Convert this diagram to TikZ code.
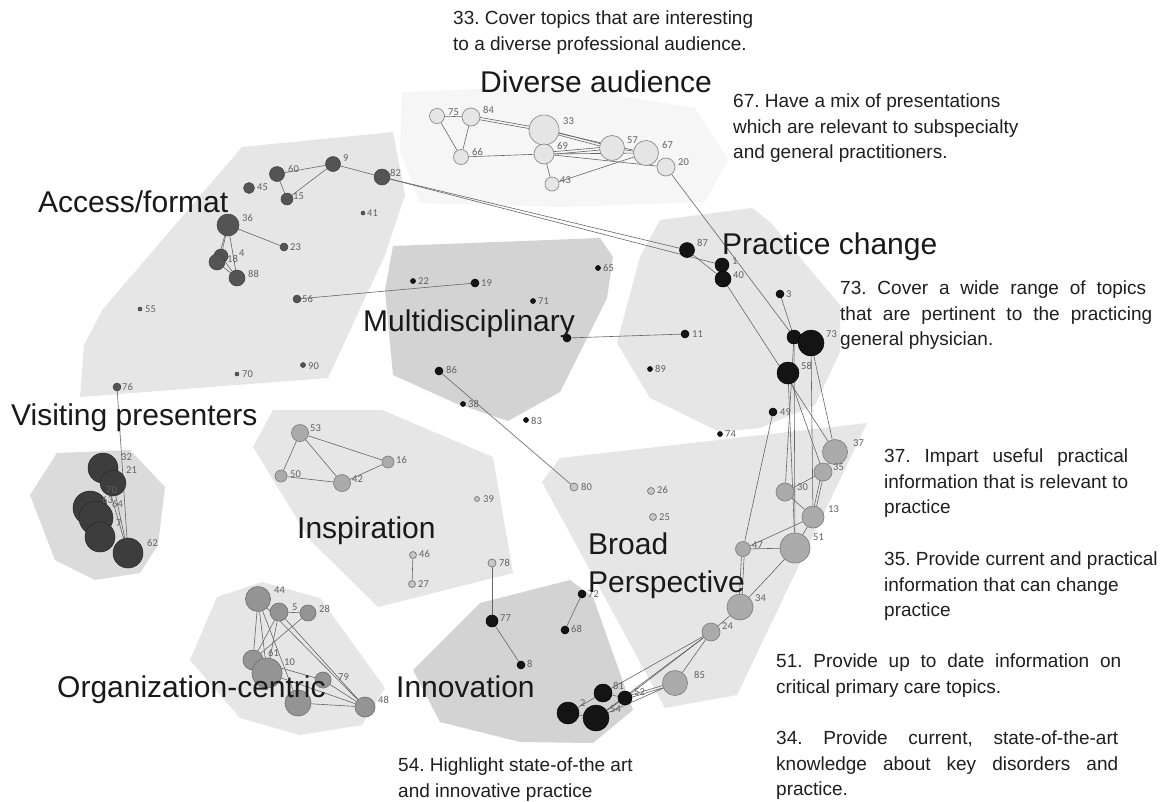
\documentclass[tikz,border=0pt]{standalone}
\usepackage{fontspec}
\setmainfont{Liberation Sans}
\newfontfamily\numfont{Carlito}
\definecolor{hullL}{HTML}{E6E6E6}
\definecolor{hullD}{HTML}{D3D3D3}
\definecolor{hullV}{HTML}{F6F6F6}
\pgfdeclarelayer{hull}
\pgfdeclarelayer{edges}
\pgfsetlayers{hull,edges,main}
\tikzset{
  nd/.style={circle,inner sep=0pt,minimum size=#1},
  daN/.style={nd=#1,fill=black!10,draw=black!45,line width=0.7pt},
  acN/.style={nd=#1,fill=black!67,draw=black!75,line width=0.5pt},
  viN/.style={nd=#1,fill=black!76,draw=black!85,line width=0.5pt},
  bkN/.style={nd=#1,fill=black!92,draw=black,line width=0.5pt},
  brN/.style={nd=#1,fill=black!33,draw=black!50,line width=0.7pt},
  smN/.style={nd=#1,fill=black!22,draw=black!50,line width=0.8pt},
  orN/.style={nd=#1,fill=black!42,draw=black!55,line width=0.7pt},
  ed/.style={draw=black!60,line width=0.6pt},
  numlab/.style={font=\numfont\fontsize{10.5}{12}\selectfont,text=black!62,inner sep=0pt,anchor=west},
  biglab/.style={font=\fontsize{30}{36}\selectfont,text=black!90,inner sep=0pt,anchor=base west},
  note/.style={font=\frenchspacing\fontsize{19}{25.5}\selectfont,text=black!88,inner sep=0pt,anchor=north west,align=left}
}
\begin{document}
\begin{tikzpicture}[x=1pt,y=-1pt]
\useasboundingbox (0,0) rectangle (1162,801);
% ---------- hulls
\begin{pgfonlayer}{hull}
\fill[white] (0,0) rectangle (1162,801);
\fill[hullV] (402,92) -- (560,86) -- (695,108) -- (728,160) -- (705,202) -- (560,207) -- (420,203) -- (400,150) -- cycle;
\fill[hullL] (242,147) -- (393,132) -- (405,195) -- (385,255) -- (328,378) -- (80,397) -- (84,345) -- (103,309) -- cycle;
\fill[hullL] (660,220) -- (752,208) -- (770,222) -- (840,305) -- (840,352) -- (815,405) -- (760,428) -- (720,432) -- (650,398) -- (617,343) -- (640,257) -- cycle;
\fill[hullL] (560,458) -- (867,423) -- (737,695) -- (665,708) -- (542,482) -- cycle;
\fill[hullL] (273,410) -- (382,410) -- (493,457) -- (513,573) -- (378,607) -- (310,540) -- (253,447) -- cycle;
\fill[hullL] (217,597) -- (262,582) -- (320,598) -- (385,688) -- (362,725) -- (300,735) -- (240,718) -- (190,660) -- cycle;
\fill[hullL!95!black] (57,453) -- (130,450) -- (165,487) -- (158,545) -- (140,573) -- (95,580) -- (55,560) -- (30,495) -- cycle;
\fill[hullD] (393,246) -- (600,238) -- (613,257) -- (607,298) -- (560,392) -- (508,421) -- (455,403) -- (393,375) -- (385,290) -- cycle;
\fill[hullD] (480,603) -- (570,580) -- (593,597) -- (633,710) -- (593,743) -- (520,742) -- (440,722) -- (413,670) -- cycle;
\end{pgfonlayer}
% ---------- Diverse audience
\node[daN=15pt] (n75) at (437,116) {};
\node[daN=18pt] (n84) at (471,117) {};
\node[daN=30pt] (n33) at (544,130) {};
\node[daN=15pt] (n66) at (461,157) {};
\node[daN=20pt] (n69) at (544,154) {};
\node[daN=25pt] (n57) at (612,148) {};
\node[daN=25pt] (n67) at (646,153) {};
\node[daN=18pt] (n20) at (666,167) {};
\node[daN=14pt] (n43) at (552,184) {};
\node[numlab] (l75) at (448,112) {75};
\node[numlab] (l84) at (483,110) {84};
\node[numlab] (l33) at (563,121) {33};
\node[numlab] (l66) at (472,152) {66};
\node[numlab] (l69) at (557,146) {69};
\node[numlab] (l57) at (627,140) {57};
\node[numlab] (l67) at (662,145) {67};
\node[numlab] (l20) at (678,162) {20};
\node[numlab] (l43) at (560,180) {43};
% ---------- Access/format
\node[acN=15pt] (n9) at (333,164) {};
\node[acN=15pt] (n60) at (277,174) {};
\node[acN=11pt] (n45) at (249,188) {};
\node[acN=12pt] (n15) at (287,199) {};
\node[acN=16pt] (n82) at (382,177) {};
\node[acN=4pt] (n41) at (363,213) {};
\node[acN=22pt] (n36) at (228,225) {};
\node[acN=8pt] (n23) at (284,247) {};
\node[acN=14pt] (n4) at (221,256) {};
\node[acN=16pt] (n18) at (217,262) {};
\node[acN=16pt] (n88) at (237,278) {};
\node[acN=8pt] (n56) at (297,299) {};
\node[acN=4pt] (n55) at (140,309) {};
\node[acN=4pt] (n70) at (237,374) {};
\node[acN=5pt] (n90) at (303,365) {};
\node[acN=8pt] (n76) at (117,387) {};
\node[numlab] (l9) at (343,158) {9};
\node[numlab] (l60) at (288,169) {60};
\node[numlab] (l45) at (257,187) {45};
\node[numlab] (l15) at (293,196) {15};
\node[numlab] (l82) at (390,173) {82};
\node[numlab] (l41) at (367,213) {41};
\node[numlab] (l36) at (242,218) {36};
\node[numlab] (l23) at (290,247) {23};
\node[numlab] (l4) at (239,253) {4};
\node[numlab] (l18) at (227,259) {18};
\node[numlab] (l88) at (248,274) {88};
\node[numlab] (l56) at (302,299) {56};
\node[numlab] (l55) at (145,309) {55};
\node[numlab] (l70) at (242,374) {70};
\node[numlab] (l90) at (308,366) {90};
\node[numlab] (l76) at (122,387) {76};
% ---------- Visiting presenters
\node[viN=30pt] (v32) at (103,468) {};
\node[viN=26pt] (v21) at (113,483) {};
\node[viN=34pt] (va) at (90,508) {};
\node[viN=34pt] (vb) at (96,518) {};
\node[viN=30pt] (vc) at (100,537) {};
\node[viN=30pt] (v62) at (128,553) {};
% ---------- Multidisciplinary
\node[bkN=5pt] (m22) at (413,281) {};
\node[bkN=8pt] (m19) at (475,283) {};
\node[bkN=5pt] (m71) at (533,301) {};
\node[bkN=5pt] (m65) at (598,268) {};
\node[bkN=8pt] (m11) at (685,334) {};
\node[bkN=8pt] (m4) at (567,338) {};
\node[bkN=8pt] (m86) at (439,371) {};
\node[bkN=5pt] (m38) at (463,404) {};
\node[bkN=5pt] (m83) at (526,420) {};
\node[smN=8pt] (m80) at (574,487) {};
\node[numlab] (l22) at (418,281) {22};
\node[numlab] (l19) at (481,283) {19};
\node[numlab] (l71) at (538,301) {71};
\node[numlab] (l65) at (603,268) {65};
\node[numlab] (l11) at (692,334) {11};
\node[numlab] (l86) at (446,370) {86};
\node[numlab] (l38) at (468,404) {38};
\node[numlab] (l83) at (531,421) {83};
\node[numlab] (l80) at (581,487) {80};
% ---------- Practice change
\node[bkN=15pt] (p87) at (687,250) {};
\node[bkN=14pt] (p1) at (722,265) {};
\node[bkN=16pt] (p40) at (723,279) {};
\node[bkN=8pt] (p3) at (780,294) {};
\node[bkN=14pt] (ph) at (794,337) {};
\node[bkN=26pt] (p73) at (811,343) {};
\node[bkN=22pt] (p58) at (788,373) {};
\node[bkN=8pt] (p49) at (773,412) {};
\node[bkN=5pt] (p74) at (720,434) {};
\node[bkN=5pt] (p89) at (650,369) {};
\node[numlab] (l87) at (697,243) {87};
\node[numlab] (l1) at (732,261) {1};
\node[numlab] (l40) at (733,275) {40};
\node[numlab] (l3) at (786,294) {3};
\node[numlab] (l73) at (826,334) {73};
\node[numlab] (l58) at (801,366) {58};
\node[numlab] (l49) at (780,412) {49};
\node[numlab] (l74) at (725,434) {74};
\node[numlab] (l89) at (655,369) {89};
% ---------- Broad perspective
\node[brN=25pt] (b37) at (835,452) {};
\node[brN=18pt] (b35) at (823,472) {};
\node[brN=18pt] (b30) at (785,492) {};
\node[brN=22pt] (b13) at (813,517) {};
\node[brN=30pt] (b51) at (795,548) {};
\node[brN=15pt] (b47) at (743,549) {};
\node[brN=26pt] (b34) at (740,607) {};
\node[brN=18pt] (b24) at (711,632) {};
\node[brN=25pt] (b85) at (675,683) {};
\node[smN=7pt] (b26) at (651,491) {};
\node[smN=7pt] (b25) at (653,517) {};
\node[numlab] (l37) at (853,443) {37};
\node[numlab] (l35) at (833,467) {35};
\node[numlab] (l30) at (797,487) {30};
\node[numlab] (l13) at (828,509) {13};
\node[numlab] (l51) at (813,537) {51};
\node[numlab] (l47) at (752,545) {47};
\node[numlab] (l34) at (755,598) {34};
\node[numlab] (l24) at (722,626) {24};
\node[numlab] (l85) at (694,675) {85};
\node[numlab] (l26) at (657,490) {26};
\node[numlab] (l25) at (659,517) {25};
% ---------- Inspiration
\node[brN=17pt] (i53) at (300,433) {};
\node[brN=12pt] (i50) at (281,476) {};
\node[brN=17pt] (i42) at (342,483) {};
\node[brN=12pt] (i16) at (388,462) {};
\node[smN=5pt] (i39) at (477,499) {};
\node[smN=7pt] (i46) at (413,555) {};
\node[smN=7pt] (i27) at (412,584) {};
\node[smN=8pt] (i78) at (492,563) {};
\node[numlab] (l53) at (310,428) {53};
\node[numlab] (l50) at (290,474) {50};
\node[numlab] (l42) at (352,479) {42};
\node[numlab] (l16) at (396,460) {16};
\node[numlab] (l39) at (483,499) {39};
\node[numlab] (l46) at (419,554) {46};
\node[numlab] (l27) at (418,584) {27};
\node[numlab] (l78) at (499,563) {78};
% ---------- Innovation
\node[bkN=12pt] (x77) at (492,621) {};
\node[bkN=8pt] (x8) at (521,665) {};
\node[bkN=8pt] (x72) at (582,594) {};
\node[bkN=8pt] (x68) at (565,630) {};
\node[bkN=18pt] (x81) at (603,693) {};
\node[bkN=14pt] (x52) at (625,698) {};
\node[bkN=22pt] (x2) at (568,713) {};
\node[bkN=26pt] (x54) at (596,718) {};
\node[numlab] (l77) at (500,618) {77};
\node[numlab] (l8) at (527,664) {8};
\node[numlab] (l72) at (588,594) {72};
\node[numlab] (l68) at (571,629) {68};
\node[numlab] (l81) at (613,686) {81};
\node[numlab] (l52) at (634,692) {52};
\node[numlab] (l2) at (580,703) {2};
\node[numlab] (l54) at (610,709) {54};
% ---------- Organization-centric
\node[orN=25pt] (o44) at (258,599) {};
\node[orN=18pt] (o5) at (279,612) {};
\node[orN=16pt] (o28) at (308,613) {};
\node[orN=20pt] (o61) at (253,660) {};
\node[orN=30pt] (obig) at (267,673) {};
\node[orN=16pt] (o79) at (323,680) {};
\node[orN=26pt] (o3) at (298,703) {};
\node[orN=20pt] (o48) at (365,707) {};
\node[numlab] (l44) at (274,590) {44};
\node[numlab] (l5) at (292,607) {5};
\node[numlab] (l28) at (319,609) {28};
\node[numlab] (l61) at (268,653) {61};
\node[numlab] (l10) at (284,662) {10};
\node[numlab] (l79) at (338,677) {79};
\node[numlab] (l48) at (378,700) {48};
% visiting labels
\node[numlab] (l32) at (121,457) {32};
\node[numlab] (l21) at (126,470) {21};
\node[numlab] (l70b) at (106,490) {70};
\node[numlab] (l63) at (102,500) {63};
\node[numlab] (l64) at (112,504) {64};
\node[numlab] (l7) at (116,523) {7};
\node[numlab] (l62) at (147,543) {62};
% ---------- edges
\begin{pgfonlayer}{edges}
\draw[ed] (n75) -- (n84);
\draw[ed] (n75) -- (n66);
\draw[ed] (n84) -- (n66);
\draw[ed] ([yshift=-1.2pt]n84.center) -- ([yshift=-1.2pt]n33.center);
\draw[ed] ([yshift=1.2pt]n84.center) -- ([yshift=1.2pt]n33.center);
\draw[ed] ([yshift=-1.2pt]n33.center) -- ([yshift=-1.2pt]n57.center);
\draw[ed] ([yshift=1.2pt]n33.center) -- ([yshift=1.2pt]n57.center);
\draw[ed] (n33) -- (n67);
\draw[ed] (n66) -- (n69);
\draw[ed] ([yshift=-1pt]n69.center) -- ([yshift=-1pt]n57.center);
\draw[ed] ([yshift=1.5pt]n69.center) -- ([yshift=1.5pt]n57.center);
\draw[ed] (n69) -- (n67);
\draw[ed] (n69) -- (n20);
\draw[ed] (n43) -- (n69);
\draw[ed] (n43) -- (n67);
\draw[ed] (n57) -- (n67);
\draw[ed] (n20) -- (ph);
\draw[ed] (n82) -- (p87);
\draw[ed] (n82) -- (p1);
\draw[ed] (p87) -- (p40);
\draw[ed] (p40) -- (b37);
\draw[ed] (p3) -- (ph);
\draw[ed] (ph) -- (p73);
\draw[ed] (ph) -- (b51);
\draw[ed] (ph) -- (b30);
\draw[ed] (p73) -- (b37);
\draw[ed] (p73) -- (b13);
\draw[ed] (p58) -- (b51);
\draw[ed] (p58) -- (b35);
\draw[ed] (p49) -- (b47);
\draw[ed] (b37) -- (b35);
\draw[ed] (b35) -- (b30);
\draw[ed] ([xshift=-1.2pt]b35.center) -- ([xshift=-1.2pt]b13.center);
\draw[ed] ([xshift=1.2pt]b35.center) -- ([xshift=1.2pt]b13.center);
\draw[ed] (b30) -- (b13);
\draw[ed] (b13) -- (b47);
\draw[ed] (b13) -- (b51);
\draw[ed] (b51) -- (b47);
\draw[ed] (b51) -- (b34);
\draw[ed] ([xshift=-1.2pt]b47.center) -- ([xshift=-1.2pt]b34.center);
\draw[ed] ([xshift=1.5pt]b47.center) -- ([xshift=1.5pt]b34.center);
\draw[ed] (b34) -- (b24);
\draw[ed] (b24) -- (b85);
\draw[ed] (b24) -- (x81);
\draw[ed] (b24) -- (x52);
\draw[ed] (b24) -- (x54);
\draw[ed] ([yshift=-1.2pt]b85.center) -- ([yshift=-1.2pt]x52.center);
\draw[ed] ([yshift=1.2pt]b85.center) -- ([yshift=1.2pt]x52.center);
\draw[ed] (b85) -- (x54);
\draw[ed] (i78) -- (x77);
\draw[ed] (x77) -- (x8);
\draw[ed] (x72) -- (x68);
\draw[ed] (x81) -- (x52);
\draw[ed] (x81) -- (x2);
\draw[ed] (x2) -- (x54);
\draw[ed] (x54) -- (x52);
\draw[ed] (n56) -- (m19);
\draw[ed] (m11) -- (m4);
\draw[ed] (m86) -- (m80);
\draw[ed] (i53) -- (i50);
\draw[ed] (i53) -- (i42);
\draw[ed] (i53) -- (i16);
\draw[ed] (i50) -- (i42);
\draw[ed] (i42) -- (i16);
\draw[ed] (i46) -- (i27);
\draw[ed] (n60) -- (n9);
\draw[ed] (n60) -- (n15);
\draw[ed] (n9) -- (n15);
\draw[ed] (n9) -- (n82);
\draw[ed] (n36) -- (n23);
\draw[ed] (n36) -- (n18);
\draw[ed] (n36) -- (n4);
\draw[ed] (n36) -- (n88);
\draw[ed] (n18) -- (n88);
\draw[ed] (n4) -- (n88);
\draw[ed] (n76) -- (v62);
\draw[ed] (v32) -- (v62);
\draw[ed] (v21) -- (v62);
\draw[ed] (va) -- (vc);
\draw[ed] (o44) -- (o61);
\draw[ed] (o44) -- (obig);
\draw[ed] (o44) -- (o48);
\draw[ed] (o44) -- (o3);
\draw[ed] (o5) -- (o28);
\draw[ed] (o5) -- (o61);
\draw[ed] (o5) -- (obig);
\draw[ed] (o5) -- (o48);
\draw[ed] (o28) -- (o61);
\draw[ed] (o61) -- (o79);
\draw[ed] (obig) -- (o48);
\draw[ed] (o3) -- (o48);
\draw[ed] (o79) -- (o48);
\end{pgfonlayer}
% ---------- cluster titles
\node[biglab] (tDA) at (480,92) {Diverse audience};
\node[biglab] (tAF) at (38,212) {Access/format};
\node[biglab] (tPC) at (722,254) {Practice change};
\node[biglab] (tMD) at (363,331) {Multidisciplinary};
\node[biglab] (tVP) at (11,425) {Visiting presenters};
\node[biglab] (tIN) at (297,538) {Inspiration};
\node[biglab] (tBR) at (588,554) {Broad};
\node[biglab] (tBP) at (588,592) {Perspective};
\node[biglab] (tOC) at (57,697) {Organization-centric};
\node[biglab] (tIV) at (396,697) {Innovation};
% ---------- notes
\node[note] (a33) at (453,11) {33. Cover topics that are interesting\\to a diverse professional audience.};
\node[note] (a67) at (733,94) {67. Have a mix of presentations\\which are relevant to subspecialty\\and general practitioners.};
\node[note] (a73) at (840,281) {\makebox[306pt][s]{73. Cover a wide range of topics}\\\makebox[312pt][s]{that are pertinent to the practicing}\\general physician.};
\node[note] (a37) at (884,449) {\makebox[244pt][s]{37. Impart useful practical}\\information that is relevant to\\practice};
\node[note] (a35) at (884,552) {35. Provide current and practical\\information that can change\\practice};
\node[note] (a51) at (776,654) {\makebox[345pt][s]{51. Provide up to date information on}\\critical primary care topics.};
\node[note] (a34) at (776,731) {\makebox[342pt][s]{34. Provide current, state-of-the-art}\\\makebox[342pt][s]{knowledge about key disorders and}\\practice.};
\node[note] (a54) at (398,758) {54. Highlight state-of-the art\\and innovative practice};
\end{tikzpicture}
\end{document}
